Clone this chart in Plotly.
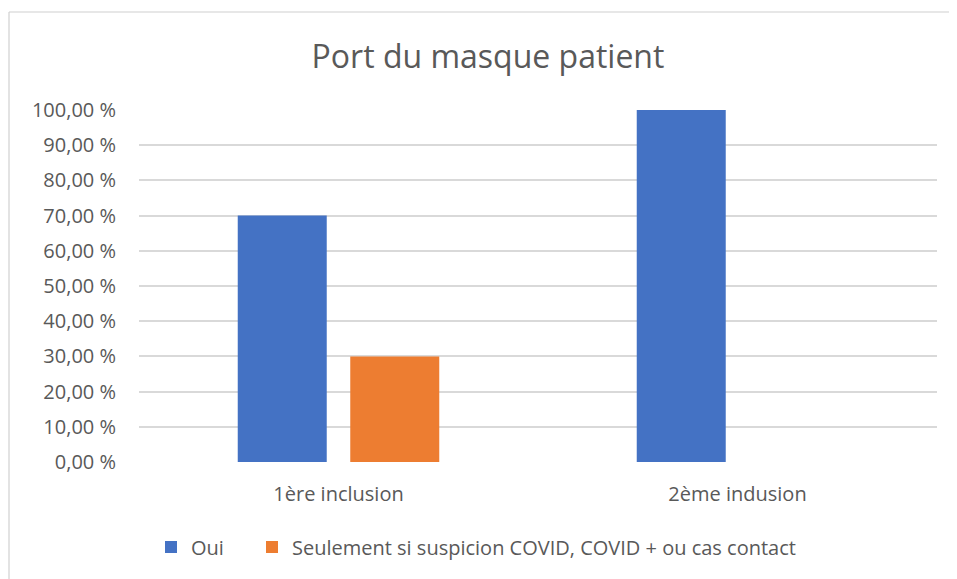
import plotly.graph_objects as go

categories = ["1ère inclusion", "2ème indusion"]
series_names = ["Oui", "Seulement si suspicion COVID, COVID + ou cas contact"]
oui_values = [70, 100]
seulement_values = [30, 0]
y_tick_values = [0, 10, 20, 30, 40, 50, 60, 70, 80, 90, 100]
y_tick_labels = ["0,00 %", "10,00 %", "20,00 %", "30,00 %", "40,00 %", "50,00 %",
                 "60,00 %", "70,00 %", "80,00 %", "90,00 %", "100,00 %"]

FONT = "'Open Sans', Lato, sans-serif"
GREY = "#595959"

fig = go.Figure()
fig.add_trace(go.Bar(x=categories, y=oui_values, name=series_names[0],
                     marker=dict(color="#4472C4", line=dict(width=0)),
                     legend="legend"))
fig.add_trace(go.Bar(x=categories, y=seulement_values, name=series_names[1],
                     marker=dict(color="#ED7D31", line=dict(width=0)),
                     legend="legend2"))

OFF = 8  # page body margin offset
W, H = 957 - OFF, 579 - OFF
L, T = 139 - OFF, 110 - OFF
R = W - (937 - OFF)
B = H - (462 - OFF)
pw, ph = W - L - R, H - T - B

legend_y = -(547 - 462) / ph
legend_common = dict(orientation="h", xanchor="left", y=legend_y, yanchor="middle",
                     font=dict(size=20, color=GREY, family=FONT),
                     itemwidth=30, bgcolor="rgba(0,0,0,0)")

bx0 = (9 - OFF - L) / pw
by1 = 1 + (T - (12 - OFF)) / ph
border = dict(color="#d0d0d0", width=1.2)

fig.update_layout(
    width=W, height=H,
    margin=dict(l=L, r=R, t=T, b=B),
    paper_bgcolor="white", plot_bgcolor="white",
    barmode="group", bargap=0.436, bargroupgap=0.209,
    font=dict(family=FONT, color=GREY, size=20),
    title=dict(text="Port du masque patient", x=(488 - OFF - L) / pw, xref="paper",
               xanchor="center",
               y=1 - (57 - OFF) / H, yanchor="middle",
               font=dict(size=32, color=GREY, family=FONT)),
    showlegend=True,
    legend=dict(x=(151 - OFF - L) / pw, **legend_common),
    legend2=dict(x=(252 - OFF - L) / pw, **legend_common),
    xaxis=dict(showgrid=False, showline=False, ticks="", zeroline=False,
               ticklabelstandoff=18,
               tickfont=dict(size=20, color=GREY)),
    yaxis=dict(range=[0, 100], tickvals=y_tick_values, ticktext=y_tick_labels,
               showgrid=True, gridcolor="#d9d9d9", gridwidth=1.5,
               zeroline=False, showline=False, ticks="", ticklabelstandoff=22,
               tickfont=dict(size=20, color=GREY)),
    shapes=[
        dict(type="line", xref="paper", yref="paper",
             x0=bx0, x1=1.3, y0=by1, y1=by1, line=border, layer="below"),
        dict(type="line", xref="paper", yref="paper",
             x0=bx0, x1=bx0, y0=-0.6, y1=by1, line=border, layer="below"),
    ],
)

fig.write_html("out.html")
